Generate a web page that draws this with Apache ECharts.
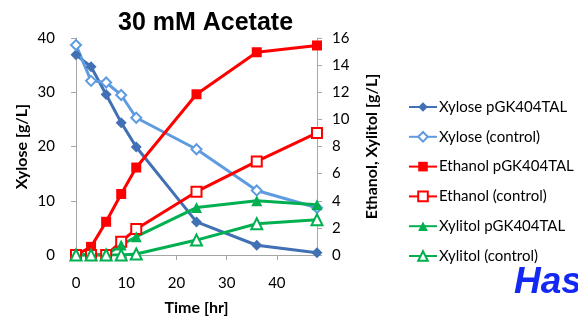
<!DOCTYPE html>
<html>
<head>
<meta charset="utf-8">
<script src="https://cdn.jsdelivr.net/npm/echarts@6/dist/echarts.min.js"></script>
<style>
  html, body { margin: 0; padding: 0; background: #fff; }
  #chart { width: 578px; height: 325px; }
</style>
</head>
<body>
<div id="chart"></div>
<script>
// sampling times [hr]
const times = [0, 3, 6, 9, 12, 24, 36, 48]

// xylose [g/L], left axis
const xylosePGK = [36.9, 34.7, 29.6, 24.4, 19.9, 6.1, 1.8, 0.4]
const xyloseCtrl = [38.7, 32.1, 31.8, 29.5, 25.3, 19.5, 11.9, 8.7]

// ethanol / xylitol [g/L], right axis
const ethanolPGK = [0, 0.6, 2.45, 4.5, 6.45, 11.85, 14.95, 15.45]
const ethanolCtrl = [0, 0, 0, 0.98, 1.92, 4.67, 6.9, 9.0]
const xylitolPGK = [0, 0, 0, 0.74, 1.35, 3.5, 4.0, 3.7]
const xylitolCtrl = [0, 0, 0, 0, 0.07, 1.1, 2.3, 2.6]

const seriesNames = [
  'Xylose pGK404TAL',
  'Xylose (control)',
  'Ethanol pGK404TAL',
  'Ethanol (control)',
  'Xylitol pGK404TAL',
  'Xylitol (control)'
]

const pair = arr => times.map((t, i) => [t, arr[i]])
const labelFont = 'Lato, "Liberation Sans", sans-serif'
const axisColor = '#a6a6a6'

function line(name, data, color, symbol, size, yIdx) {
  const empty = symbol.indexOf('empty') === 0
  return {
    name: name,
    type: 'line',
    yAxisIndex: yIdx,
    data: pair(data),
    symbol: symbol,
    symbolSize: size,
    showAllSymbol: true,
    lineStyle: { color: color, width: 3 },
    itemStyle: { color: color, borderColor: color, borderWidth: empty ? 1.3 : 0 },
    emphasis: { disabled: true },
    animation: false
  }
}

const chart = echarts.init(document.getElementById('chart'))
chart.setOption({
  backgroundColor: '#fff',
  title: {
    text: '30 mM Acetate',
    left: 113,
    top: 6,
    textStyle: { fontFamily: '"Liberation Sans", Arial, sans-serif', fontWeight: 'bold', fontSize: 25, color: '#000' }
  },
  graphic: [{
    type: 'text',
    left: 514,
    top: 264,
    style: { text: 'Has', font: 'italic bold 37px "Liberation Sans", Arial, sans-serif', fill: '#1328f2' }
  }],
  legend: {
    orient: 'vertical',
    left: 403,
    top: 94,
    itemWidth: 28,
    itemHeight: 12,
    itemGap: 13.8,
    data: seriesNames,
    textStyle: { fontFamily: labelFont, fontSize: 15, color: '#000', lineHeight: 16, padding: [0, 0, 0, -3] }
  },
  grid: { left: 76, right: 261, top: 38, bottom: 70, containLabel: false },
  xAxis: {
    type: 'value',
    min: 0,
    max: 48,
    interval: 10,
    name: 'Time [hr]',
    nameLocation: 'middle',
    nameGap: 45,
    nameTextStyle: { fontFamily: labelFont, fontWeight: 'bold', fontSize: 16, color: '#000' },
    axisLine: { lineStyle: { color: axisColor, width: 1 } },
    axisTick: { show: true, length: 5, lineStyle: { color: axisColor } },
    axisLabel: { showMaxLabel: false, margin: 21, fontFamily: labelFont, fontSize: 15, color: '#000' },
    splitLine: { show: false }
  },
  yAxis: [
    {
      type: 'value',
      min: 0,
      max: 40,
      interval: 10,
      name: 'Xylose [g/L]',
      nameLocation: 'middle',
      nameGap: 46,
      nameTextStyle: { fontFamily: labelFont, fontWeight: 'bold', fontSize: 16, color: '#000' },
      axisLine: { show: true, lineStyle: { color: axisColor, width: 1 } },
      axisTick: { show: true, length: 5, lineStyle: { color: axisColor } },
      axisLabel: { margin: 21, fontFamily: labelFont, fontSize: 15, color: '#000' },
      splitLine: { show: false }
    },
    {
      type: 'value',
      position: 'right',
      min: 0,
      max: 16,
      interval: 2,
      name: 'Ethanol, Xylitol [g/L]',
      nameLocation: 'middle',
      nameGap: 47,
      nameTextStyle: { fontFamily: labelFont, fontWeight: 'bold', fontSize: 16, color: '#000' },
      axisLine: { show: true, lineStyle: { color: axisColor, width: 1 } },
      axisTick: { show: true, length: 5, lineStyle: { color: axisColor } },
      axisLabel: { margin: 15, fontFamily: labelFont, fontSize: 15, color: '#000' },
      splitLine: { show: false }
    }
  ],
  series: [
    line(seriesNames[0], xylosePGK, '#4170b4', 'diamond', 11, 0),
    line(seriesNames[1], xyloseCtrl, '#5f9be0', 'emptyDiamond', 10, 0),
    line(seriesNames[2], ethanolPGK, '#ff0000', 'rect', 10, 1),
    line(seriesNames[3], ethanolCtrl, '#ff0000', 'emptyRect', 10, 1),
    line(seriesNames[4], xylitolPGK, '#00b050', 'triangle', 11, 1),
    line(seriesNames[5], xylitolCtrl, '#00b050', 'emptyTriangle', 11, 1)
  ]
})
</script>
</body>
</html>
